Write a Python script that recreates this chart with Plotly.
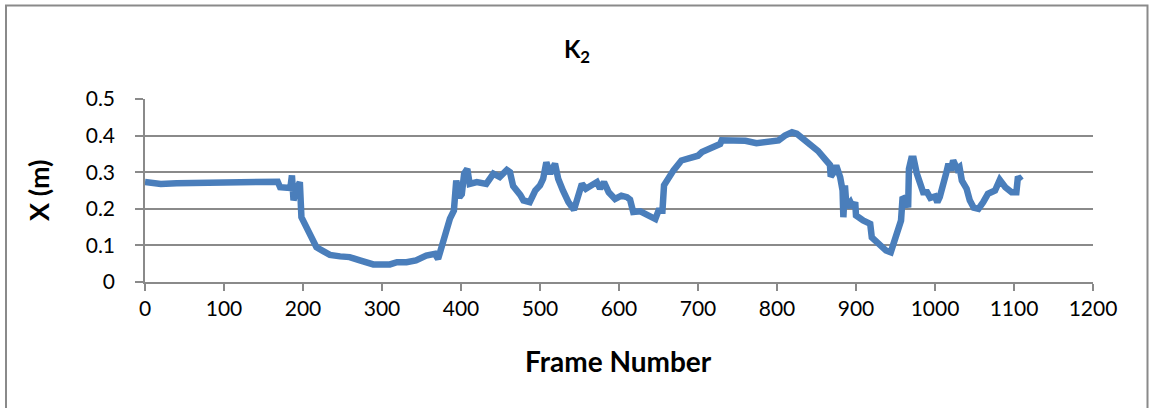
import plotly.graph_objects as go

frames = [0, 20, 40, 60, 80, 100, 120, 140, 160, 168, 171, 184, 186, 188, 192, 196, 198, 204, 211, 217,
          225, 234, 247, 259, 272, 289, 310, 319, 331, 343, 356, 367, 371, 375, 381, 386, 391, 392, 394, 398,
          401, 404, 408, 411, 420, 432, 441, 449, 458, 462, 466, 475, 479, 487, 494, 500, 504, 508, 513, 519,
          523, 529, 536, 543, 547, 553, 558, 565, 572, 576, 581, 587, 595, 603, 610, 614, 618, 627, 635, 646,
          650, 655, 657, 662, 669, 679, 690, 700, 705, 717, 728, 730, 749, 760, 774, 791, 802, 810, 819, 825,
          833, 844, 852, 861, 867, 868, 872, 875, 880, 883, 884, 886, 888, 893, 896, 899, 900, 909, 918, 920,
          928, 938, 944, 948, 954, 957, 959, 963, 966, 967, 970, 973, 977, 981, 985, 990, 994, 1000, 1003, 1006,
          1010, 1014, 1017, 1020, 1023, 1028, 1031, 1034, 1040, 1044, 1049, 1055, 1061, 1067, 1076, 1082, 1089, 1097, 1103, 1105,
          1109]
x_m = [0.273, 0.268, 0.270, 0.271, 0.270, 0.271, 0.270, 0.272, 0.272, 0.274, 0.259, 0.257, 0.291, 0.223, 0.255, 0.273, 0.177, 0.150, 0.122, 0.095,
       0.085, 0.074, 0.070, 0.068, 0.059, 0.048, 0.048, 0.054, 0.054, 0.059, 0.072, 0.077, 0.063, 0.095, 0.132, 0.173, 0.195, 0.268, 0.277, 0.232,
       0.240, 0.296, 0.309, 0.268, 0.273, 0.268, 0.296, 0.287, 0.306, 0.300, 0.262, 0.238, 0.223, 0.218, 0.250, 0.264, 0.282, 0.327, 0.296, 0.323,
       0.282, 0.250, 0.218, 0.197, 0.227, 0.268, 0.255, 0.262, 0.273, 0.255, 0.273, 0.245, 0.227, 0.236, 0.232, 0.225, 0.191, 0.193, 0.182, 0.172,
       0.195, 0.195, 0.264, 0.282, 0.305, 0.332, 0.340, 0.345, 0.355, 0.366, 0.377, 0.387, 0.385, 0.386, 0.379, 0.382, 0.387, 0.400, 0.409, 0.405,
       0.391, 0.377, 0.358, 0.335, 0.320, 0.288, 0.300, 0.318, 0.286, 0.250, 0.177, 0.264, 0.204, 0.218, 0.204, 0.218, 0.182, 0.168, 0.159, 0.122,
       0.104, 0.086, 0.081, 0.104, 0.141, 0.168, 0.232, 0.226, 0.204, 0.309, 0.337, 0.337, 0.296, 0.268, 0.245, 0.245, 0.230, 0.234, 0.218, 0.232,
       0.273, 0.296, 0.323, 0.305, 0.332, 0.309, 0.314, 0.277, 0.255, 0.223, 0.203, 0.200, 0.218, 0.241, 0.250, 0.279, 0.259, 0.245, 0.245, 0.288,
       0.277]

x_ticks = [0, 100, 200, 300, 400, 500, 600, 700, 800, 900, 1000, 1100, 1200]
y_ticks = [0, 0.1, 0.2, 0.3, 0.4, 0.5]

chart_title = "K<sub>2</sub>"
x_title = "Frame Number"
y_title = "X (m)"

FONT = "Lato"
GRID = "#8a8a8a"

fig = go.Figure()
fig.add_trace(go.Scatter(x=frames, y=x_m, mode="lines",
                         line=dict(color="#4A7EBB", width=6.5), showlegend=False))

fig.update_layout(
    width=1149, height=408,
    margin=dict(l=145, r=56, t=99, b=126),
    paper_bgcolor="white", plot_bgcolor="white",
    font=dict(family=FONT, color="black"),
    title=dict(text="<b>" + chart_title + "</b>", x=577 / 1149, xanchor="center",
               y=1 - 50 / 408, yanchor="middle", font=dict(size=24, family=FONT, color="black")),
    xaxis=dict(range=[0, 1200], tickvals=x_ticks, ticktext=[str(t) for t in x_ticks],
               showgrid=False, zeroline=False, showline=True, linecolor=GRID, linewidth=1.5,
               ticks="outside", ticklen=7, tickcolor=GRID, tickwidth=1.5,
               tickfont=dict(size=21, family=FONT, color="black"), ticklabelstandoff=0),
    yaxis=dict(range=[0, 0.5], tickvals=y_ticks, ticktext=["0", "0.1", "0.2", "0.3", "0.4", "0.5"],
               showgrid=True, gridcolor=GRID, gridwidth=1.5, zeroline=False,
               showline=True, linecolor=GRID, linewidth=1.5,
               ticks="outside", ticklen=8, tickcolor=GRID, tickwidth=1.5,
               tickfont=dict(size=21, family=FONT, color="black"), ticklabelstandoff=16),
    annotations=[
        dict(text="<b>" + x_title + "</b>", xref="paper", yref="paper",
             x=(618 - 145) / 948, y=(281.7 - 360) / 182.4, xanchor="center", yanchor="middle",
             showarrow=False, font=dict(size=28, family=FONT, color="black")),
        dict(text="<b>" + y_title + "</b>", xref="paper", yref="paper",
             x=(39 - 145) / 948, y=(281.7 - 190) / 182.4, xanchor="center", yanchor="middle",
             textangle=-90, showarrow=False, font=dict(size=27, family=FONT, color="black")),
    ],
    shapes=[dict(type="rect", xref="paper", yref="paper",
                 x0=(6 - 145) / 948, x1=(1147.5 - 145) / 948,
                 y0=(281.7 - 415) / 182.4, y1=(281.7 - 6) / 182.4,
                 line=dict(color="#8a8a8a", width=2), fillcolor="rgba(0,0,0,0)", layer="below")],
)

fig.write_html("out.html", config={"displayModeBar": False},
               post_script="document.body.style.margin='0';")
